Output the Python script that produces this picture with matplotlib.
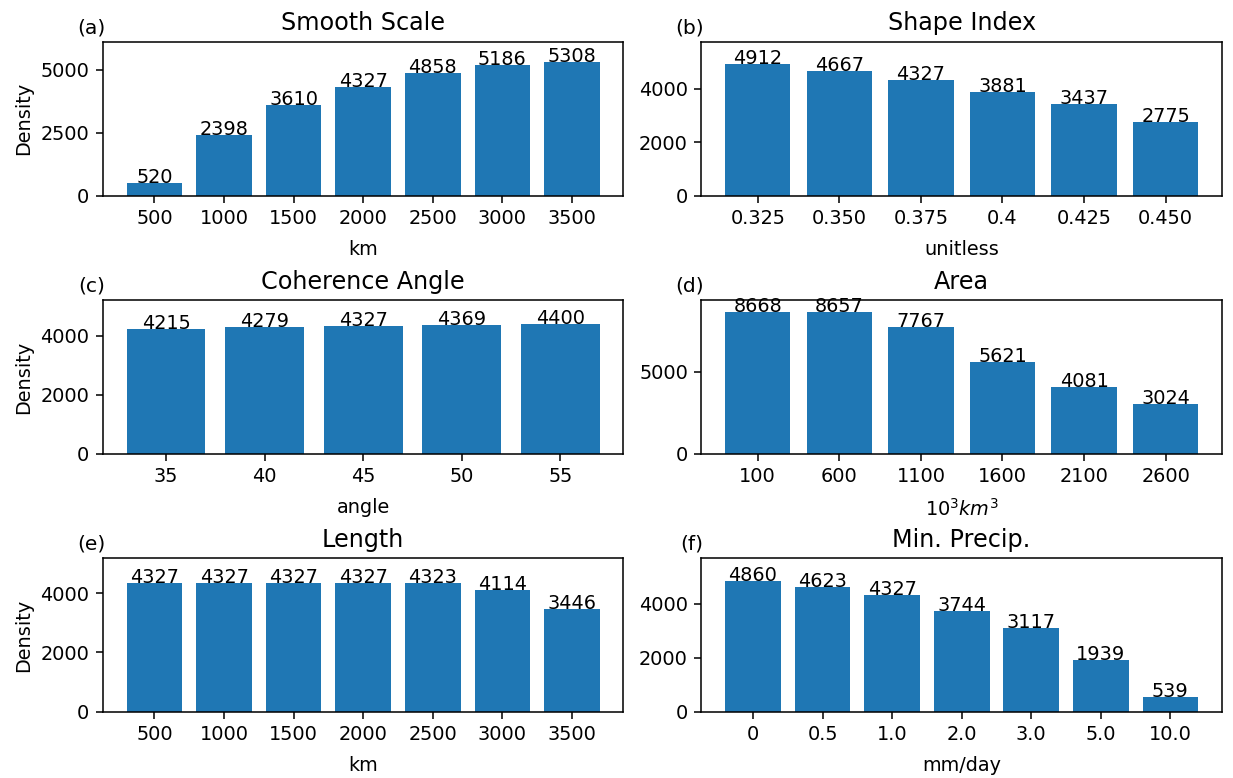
import matplotlib
matplotlib.use("Agg")
import matplotlib.pyplot as plt

smooth_cats = ["500", "1000", "1500", "2000", "2500", "3000", "3500"]
smooth_vals = [520, 2398, 3610, 4327, 4858, 5186, 5308]

shape_cats = ["0.325", "0.350", "0.375", "0.4", "0.425", "0.450"]
shape_vals = [4912, 4667, 4327, 3881, 3437, 2775]

angle_cats = ["35", "40", "45", "50", "55"]
angle_vals = [4215, 4279, 4327, 4369, 4400]

area_cats = ["100", "600", "1100", "1600", "2100", "2600"]
area_vals = [8668, 8657, 7767, 5621, 4081, 3024]

length_cats = ["500", "1000", "1500", "2000", "2500", "3000", "3500"]
length_vals = [4327, 4327, 4327, 4327, 4323, 4114, 3446]

precip_cats = ["0", "0.5", "1.0", "2.0", "3.0", "5.0", "10.0"]
precip_vals = [4860, 4623, 4327, 3744, 3117, 1939, 539]

titles = ["Smooth Scale", "Shape Index", "Coherence Angle", "Area", "Length", "Min. Precip."]
xlabels = ["km", "unitless", "angle", r"$10^3km^3$", "km", "mm/day"]
letters = ["(a)", "(b)", "(c)", "(d)", "(e)", "(f)"]
ytops = [6110, 5750, 5200, 9380, 5170, 5690]

panels = [(smooth_cats, smooth_vals), (shape_cats, shape_vals), (angle_cats, angle_vals),
          (area_cats, area_vals), (length_cats, length_vals), (precip_cats, precip_vals)]

DPI = 139
fig, axes = plt.subplots(3, 2, figsize=(1233 / DPI, 778 / DPI), dpi=DPI)
fig.subplots_adjust(left=0.0835, right=0.991, top=0.946, bottom=0.085, wspace=0.15, hspace=0.68)

for i, ax in enumerate(axes.flat):
    cats, vals = panels[i]
    ax.bar(cats, vals, color="#1f77b4", width=0.8)
    for j, v in enumerate(vals):
        ax.text(j, v, str(v), ha="center", va="baseline", fontsize=10)
    ax.set_ylim(0, ytops[i])
    ax.set_title(titles[i], fontsize=12.4)
    ax.set_xlabel(xlabels[i], fontsize=10, labelpad=6)
    ax.tick_params(labelsize=10)
    if i % 2 == 0:
        ax.set_ylabel("Density", fontsize=10)
    ax.text(0.004, 1.03, letters[i], transform=ax.transAxes, fontsize=10.5, ha="right", va="bottom")

fig.savefig("out.png", dpi=DPI)
